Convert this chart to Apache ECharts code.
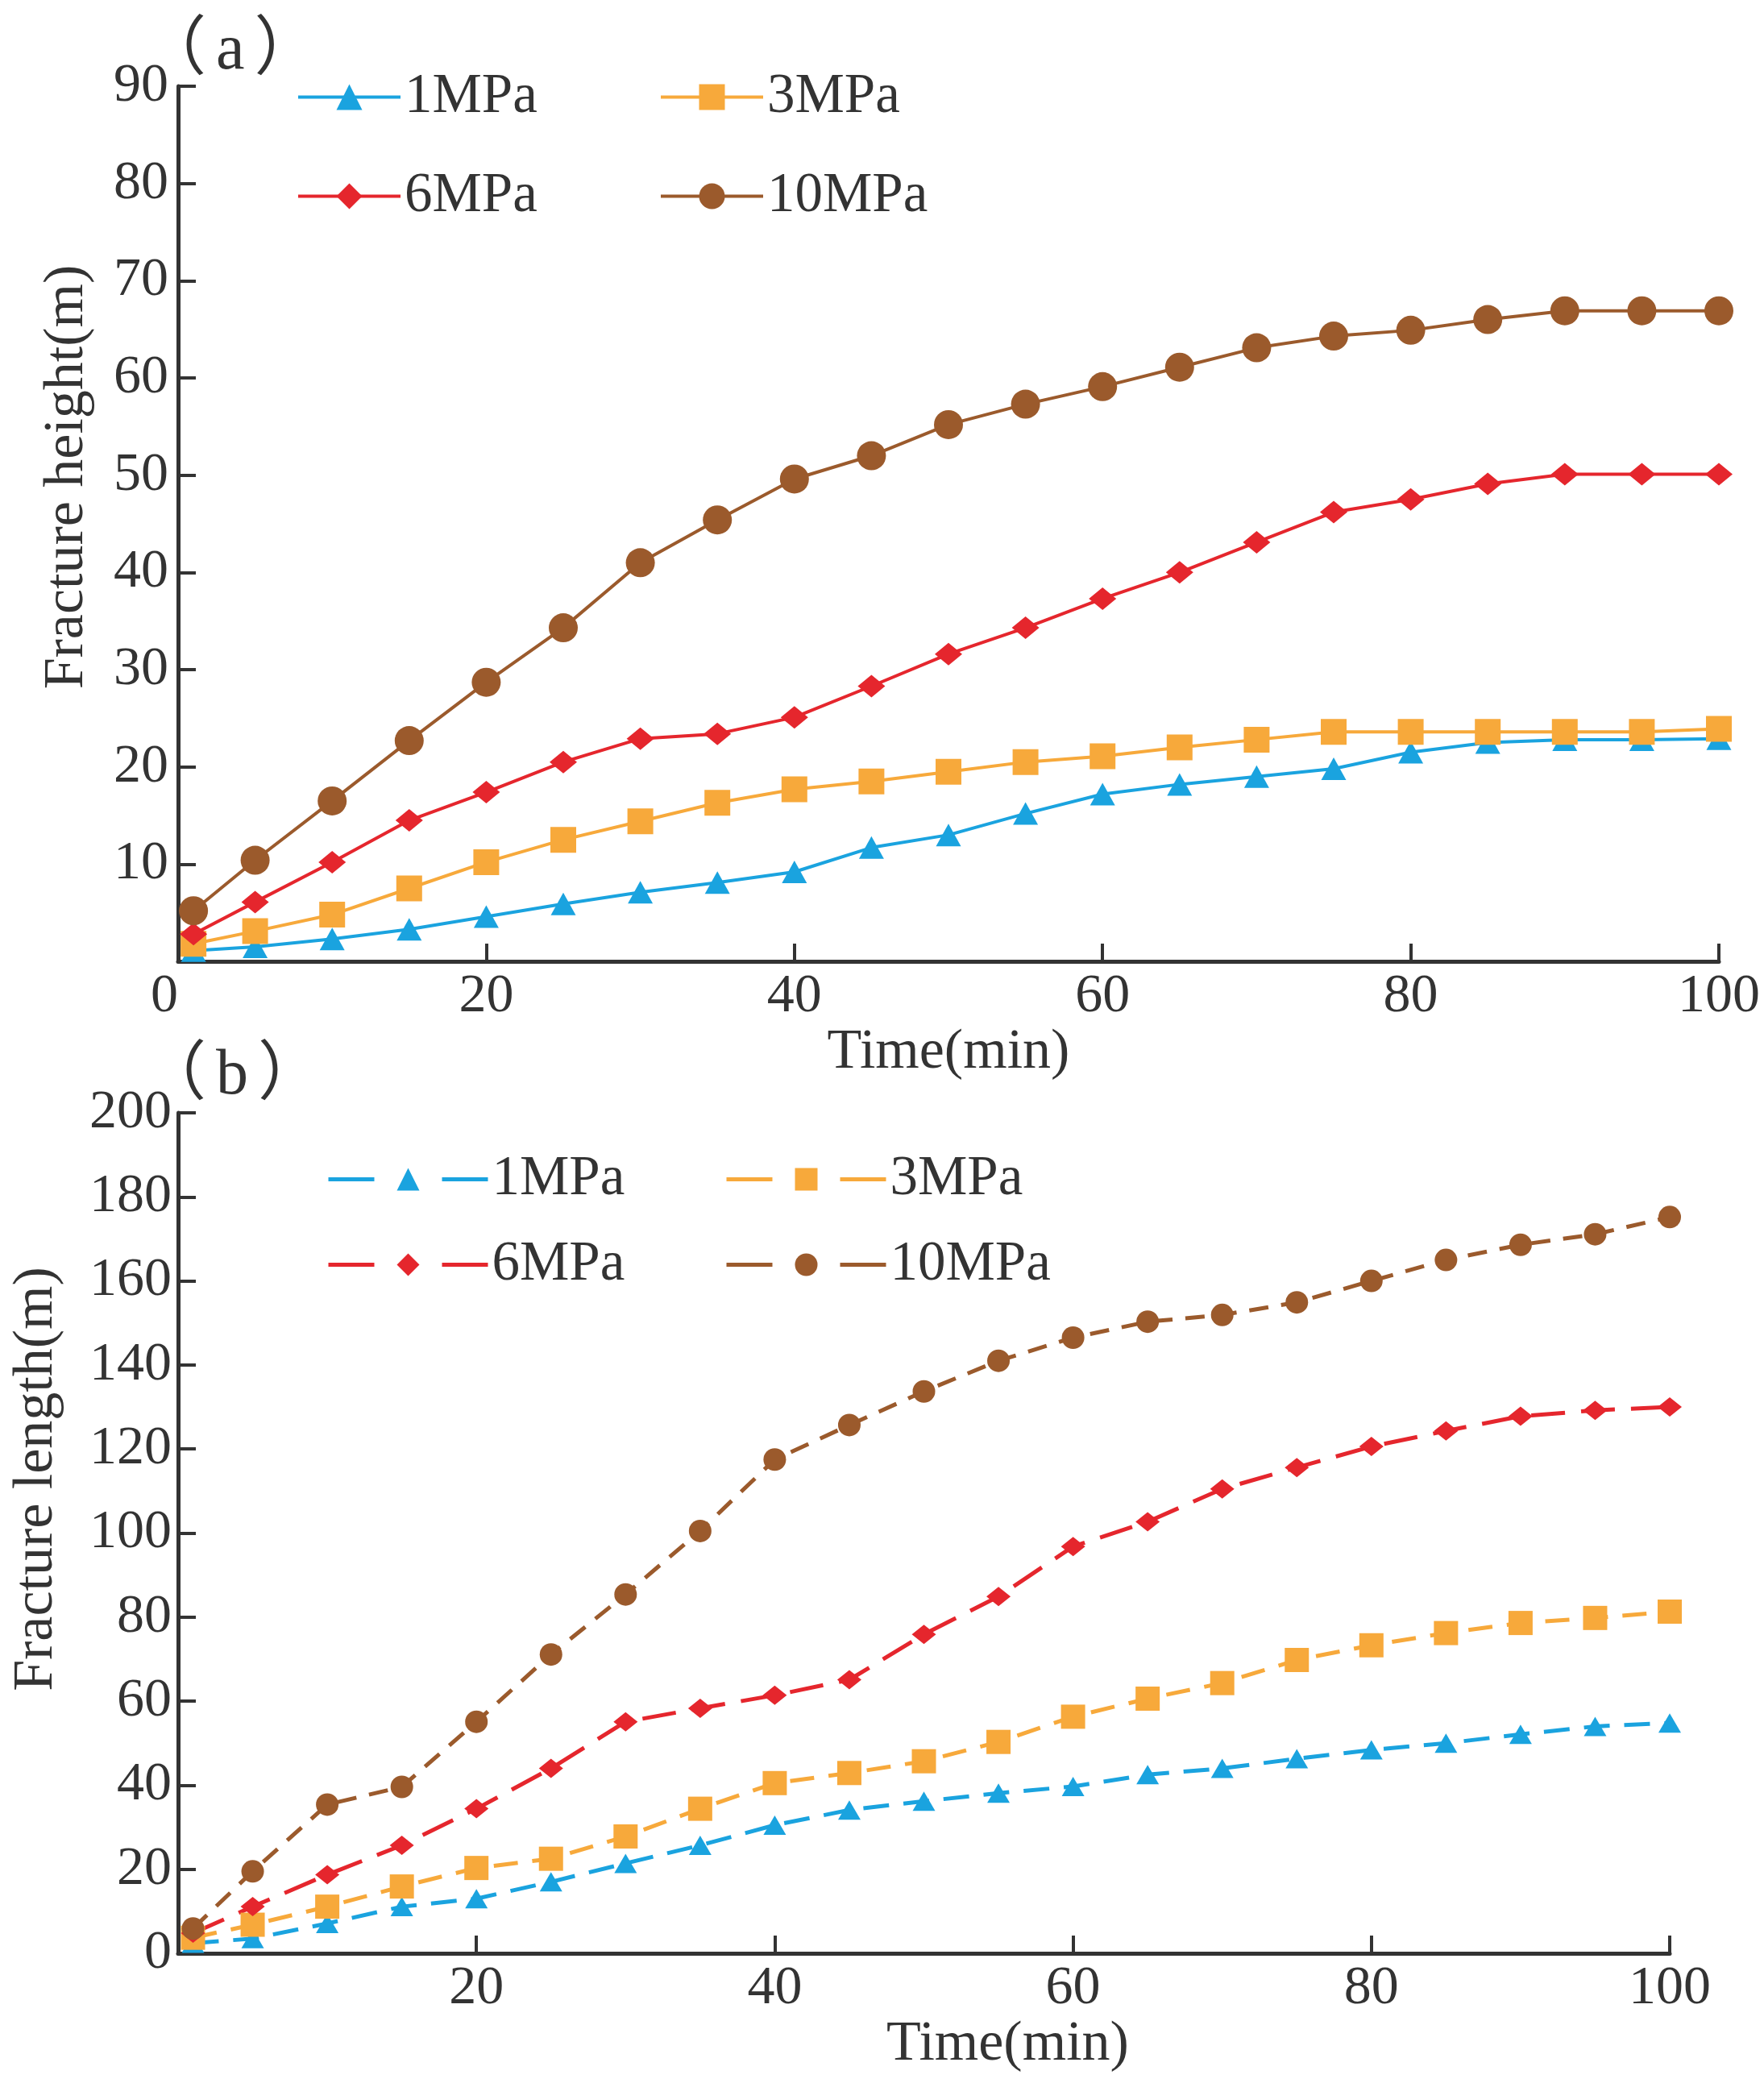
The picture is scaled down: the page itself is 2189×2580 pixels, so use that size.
<!DOCTYPE html>
<html>
<head>
<meta charset="utf-8">
<script src="https://cdn.jsdelivr.net/npm/echarts@6/dist/echarts.min.js"></script>
<style>
  html, body { margin: 0; padding: 0; background: #fff; }
  #chart { width: 2189px; height: 2580px; }
</style>
</head>
<body>
<div id="chart"></div>
<script>
// time axis (min), shared by both panels
let time = [1, 5, 10, 15, 20, 25, 30, 35, 40, 45, 50, 55, 60, 65, 70, 75, 80, 85, 90, 95, 100];

// (a) fracture height (m)
let heightP1 = [1.1, 1.5, 2.3, 3.3, 4.6, 5.9, 7.1, 8.1, 9.2, 11.7, 13.0, 15.2, 17.2, 18.2, 19.0, 19.8, 21.5, 22.5, 22.8, 22.8, 22.9];
let heightP3 = [1.8, 3.1, 4.8, 7.5, 10.2, 12.5, 14.4, 16.3, 17.7, 18.5, 19.5, 20.5, 21.1, 22.0, 22.8, 23.6, 23.6, 23.6, 23.6, 23.6, 23.9];
let heightP6 = [2.8, 6.1, 10.2, 14.5, 17.4, 20.5, 22.9, 23.4, 25.1, 28.3, 31.6, 34.3, 37.3, 40.0, 43.1, 46.2, 47.5, 49.1, 50.1, 50.1, 50.1];
let heightP10 = [5.2, 10.4, 16.5, 22.7, 28.7, 34.3, 41.0, 45.4, 49.6, 52.0, 55.2, 57.3, 59.1, 61.1, 63.1, 64.3, 64.9, 66.0, 66.9, 66.9, 66.9];

// (b) fracture length (m)
let lengthP1 = [2.4, 3.5, 7.1, 11.1, 13.0, 17.0, 21.4, 25.7, 30.5, 34.1, 36.2, 38.1, 39.7, 42.5, 44.0, 46.3, 48.4, 50.0, 52.1, 54.0, 54.8];
let lengthP3 = [3.7, 6.8, 11.1, 15.9, 20.3, 22.5, 27.8, 34.4, 40.5, 42.9, 45.7, 50.3, 56.3, 60.6, 64.3, 69.8, 73.3, 76.2, 78.6, 79.8, 81.3];
let lengthP6 = [4.8, 11.1, 18.7, 25.7, 34.4, 44.0, 55.1, 58.3, 61.4, 65.1, 75.9, 84.9, 96.8, 102.7, 110.5, 115.6, 120.6, 124.3, 127.8, 129.2, 130.0];
let lengthP10 = [5.9, 19.5, 35.4, 39.6, 55.1, 71.1, 85.4, 100.5, 117.5, 125.7, 133.7, 141.0, 146.5, 150.3, 151.9, 154.9, 160.0, 165.0, 168.6, 171.1, 175.2];

let seriesNames = ['1MPa', '3MPa', '6MPa', '10MPa'];
let colors = ['#1aa3df', '#f7a93b', '#e5262d', '#9b5a2c'];

const FONT = "'Liberation Serif', 'Noto Sans CJK SC', serif";
const INK = '#333333';

function pairs(xs, ys) {
    return xs.map((x, i) => [x, ys[i]]);
}

// shared axis look
function axisBase() {
    return {
        type: 'value',
        splitLine: { show: false },
        axisLine: { lineStyle: { color: INK, width: 5 } },
        axisTick: { inside: true, length: 22, lineStyle: { color: INK, width: 4 } },
        axisLabel: { color: INK, fontFamily: FONT, fontSize: 68 },
        nameTextStyle: { color: INK, fontFamily: FONT, fontSize: 70 }
    };
}

let chart = echarts.init(document.getElementById('chart'));

// (a) solid lines
let symbolsA = [
    { symbol: 'triangle', size: [31, 28] },
    { symbol: 'rect', size: [32, 32] },
    { symbol: 'diamond', size: [34, 28] },
    { symbol: 'circle', size: [36, 36] }
];
let heightData = [heightP1, heightP3, heightP6, heightP10];

// (b) dashed lines
let symbolsB = [
    { symbol: 'triangle', size: [28, 24], dash: [32, 18] },
    { symbol: 'rect', size: [30, 30], dash: [30, 18] },
    { symbol: 'diamond', size: [30, 24], dash: [42, 20] },
    { symbol: 'circle', size: [28, 28], dash: [24, 16] }
];
let lengthData = [lengthP1, lengthP3, lengthP6, lengthP10];

let series = [];
seriesNames.forEach((name, i) => {
    series.push({
        name: name,
        type: 'line',
        xAxisIndex: 0,
        yAxisIndex: 0,
        data: pairs(time, heightData[i]),
        symbol: symbolsA[i].symbol,
        symbolSize: symbolsA[i].size,
        lineStyle: { color: colors[i], width: 4 },
        itemStyle: { color: colors[i] }
    });
});
seriesNames.forEach((name, i) => {
    series.push({
        name: 'b-' + name,
        type: 'line',
        xAxisIndex: 1,
        yAxisIndex: 1,
        data: pairs(time, lengthData[i]),
        symbol: symbolsB[i].symbol,
        symbolSize: symbolsB[i].size,
        lineStyle: { color: colors[i], width: 5, type: symbolsB[i].dash },
        itemStyle: { color: colors[i] }
    });
});

// one legend per item so the 2x2 layout is exact
let legendPos = [
    { a: [368, 86], b: [405, 1429] },
    { a: [818, 86], b: [899, 1429] },
    { a: [368, 209], b: [405, 1535] },
    { a: [818, 209], b: [899, 1535] }
];
let legends = [];
seriesNames.forEach((name, i) => {
    legends.push({
        data: [name],
        left: legendPos[i].a[0],
        top: legendPos[i].a[1],
        padding: 0,
        itemWidth: 127,
        itemHeight: 40,
        selectedMode: false,
        lineStyle: { width: 4 },
        textStyle: { color: INK, fontFamily: FONT, fontSize: 69 }
    });
    legends.push({
        data: ['b-' + name],
        left: legendPos[i].b[0],
        top: legendPos[i].b[1],
        padding: 0,
        itemWidth: 198,
        itemHeight: 35,
        selectedMode: false,
        formatter: n => n.replace(/^b-/, ''),
        lineStyle: { width: 5, type: [57, 84] },
        textStyle: { color: INK, fontFamily: FONT, fontSize: 69 }
    });
});

let xA = axisBase();
Object.assign(xA, {
    gridIndex: 0, min: 0, max: 100, interval: 20,
    name: 'Time(min)', nameLocation: 'middle', nameGap: 70
});
xA.axisLabel = Object.assign({}, xA.axisLabel, { margin: 10, alignMinLabel: 'right' });

let xB = axisBase();
Object.assign(xB, {
    gridIndex: 1, min: 0, max: 100, interval: 20,
    name: 'Time(min)', nameLocation: 'middle', nameGap: 70
});
xB.axisLabel = Object.assign({}, xB.axisLabel, { margin: 10, showMinLabel: false });
xB.nameTextStyle = Object.assign({}, xB.nameTextStyle, { padding: [0, 0, 0, 208] });

let yA = axisBase();
Object.assign(yA, {
    gridIndex: 0, min: 0, max: 90, interval: 10,
    name: 'Fracture height(m)', nameLocation: 'middle', nameGap: 102
});
yA.axisLabel = Object.assign({}, yA.axisLabel, { margin: 12, showMinLabel: false });
yA.nameTextStyle = Object.assign({}, yA.nameTextStyle, { padding: [0, 0, 0, 116] });

let yB = axisBase();
Object.assign(yB, {
    gridIndex: 1, min: 0, max: 200, interval: 20,
    name: 'Fracture length(m)', nameLocation: 'middle', nameGap: 140
});
yB.axisLabel = Object.assign({}, yB.axisLabel, { margin: 8 });
yB.nameTextStyle = Object.assign({}, yB.nameTextStyle, { padding: [0, 0, 0, 134] });

// panel tags with full-width brackets, letter padded apart
function panelTag(letter, top) {
    return {
        text: '{p|（}{t|' + letter + '}{p|）}',
        left: 176,
        top: top,
        padding: 0,
        textStyle: {
            fontWeight: 'normal',
            rich: {
                p: { fontFamily: FONT, fontSize: 80, fontWeight: 'normal', color: INK },
                t: { fontFamily: FONT, fontSize: 80, fontWeight: 'normal', color: INK, padding: [0, 12, 0, 12] }
            }
        }
    };
}

const option = {
    backgroundColor: '#ffffff',
    animation: false,
    title: [panelTag('a', 24), panelTag('b', 1296)],
    legend: legends,
    grid: [
        { left: 221, top: 107, width: 1912, height: 1086 },
        { left: 221, top: 1381, width: 1851, height: 1043 }
    ],
    xAxis: [xA, xB],
    yAxis: [yA, yB],
    series: series
};
chart.setOption(option);
</script>
</body>
</html>
